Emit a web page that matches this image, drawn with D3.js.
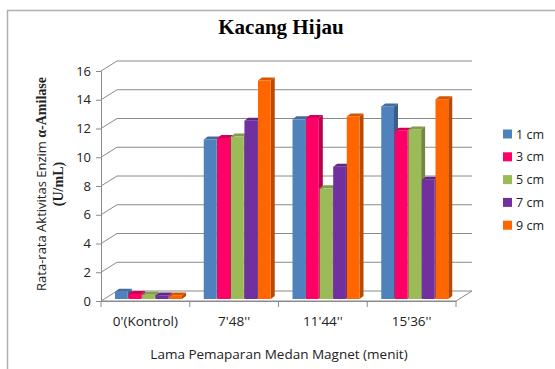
<!DOCTYPE html>
<html><head><meta charset="utf-8">
<script src="https://cdn.jsdelivr.net/npm/d3@7"></script>
<style>body{margin:0;background:#fff}svg{display:block}</style>
</head><body>
<svg id="c" width="555" height="369"></svg>
<script>
const categories = ["0'(Kontrol)", "7'48''", "11'44''", "15'36''"];
const seriesNames = ["1 cm", "3 cm", "5 cm", "7 cm", "9 cm"];
const s1 = [0.5, 11.1, 12.5, 13.4];
const s3 = [0.35, 11.2, 12.6, 11.7];
const s5 = [0.3, 11.3, 7.7, 11.8];
const s7 = [0.25, 12.4, 9.2, 8.3];
const s9 = [0.25, 15.2, 12.7, 13.9];
const yTicks = [0, 2, 4, 6, 8, 10, 12, 14, 16];
const colors = ["#4f81bd", "#ff0066", "#9bbb59", "#7030a0", "#ff6600"];
const series = [s1, s3, s5, s7, s9];

const svg = d3.select("#c");
// outer border
svg.append("rect").attr("x", 7.5).attr("y", 10.5).attr("width", 560).attr("height", 380)
  .attr("fill", "#fff").attr("stroke", "#b0b0b0").attr("stroke-width", 1.5);

const X0 = 101, X1 = 456, DX = 16, DY = -10;
const y = d3.scaleLinear().domain([0, 16]).range([301, 71]);
const x0 = d3.scaleBand().domain(categories).range([X0, X1]);
const x1 = d3.scaleBand().domain(seriesNames).range([11, 78]).paddingInner(0.06);

const g = svg.append("g");
// floor
g.append("path").attr("d", `M${X0},${y(0)}L${X0+DX},${y(0)+DY}L${X1+DX},${y(0)+DY}L${X1},${y(0)}Z`)
  .attr("fill", "#fff").attr("stroke", "#8a8a8a").attr("stroke-width", 1);
// gridlines (side wall slant + back wall)
yTicks.forEach(t => {
  if (t === 0) return;
  g.append("path").attr("d", `M${X0},${y(t)}L${X0+DX},${y(t)+DY}L${X1+DX},${y(t)+DY}`)
    .attr("fill", "none").attr("stroke", "#8a8a8a").attr("stroke-width", 1);
});
// y axis
const yAxis = d3.axisLeft(y).tickValues(yTicks).tickSize(5).tickPadding(5);
const ya = svg.append("g").attr("transform", `translate(${X0},0)`).call(yAxis);
ya.select(".domain").attr("stroke", "#8a8a8a");
ya.selectAll(".tick line").attr("stroke", "#8a8a8a");
ya.selectAll("text").attr("font-family", "'Open Sans', sans-serif").attr("font-size", 13).attr("fill", "#222");
// x axis
const xAxis = d3.axisBottom(x0).tickSize(0).tickPadding(15);
const xa = svg.append("g").attr("transform", `translate(0,${y(0)})`).call(xAxis);
xa.select(".domain").attr("stroke", "#8a8a8a");
xa.selectAll("text").attr("font-family", "'Open Sans', sans-serif").attr("font-size", 13.5).attr("fill", "#222");
const bounds = categories.map(c => x0(c)).concat([X1]);
xa.selectAll(".sep").data(bounds).join("line").attr("class", "sep")
  .attr("x1", d => d).attr("x2", d => d).attr("y1", 0).attr("y2", 6).attr("stroke", "#8a8a8a");

// bars
const BO = {dx: 3, dy: -2}, BD = {dx: 4, dy: -3};
function shade(c, k) { return d3.color(c).darker(k).formatHex(); }
const bars = [];
categories.forEach((c, ci) => {
  series.forEach((s, si) => {
    bars.push({c, ci, si, v: s[ci]});
  });
});
const bg = svg.append("g");
bars.forEach(b => {
  const xl = x0(b.c) + x1(seriesNames[b.si]) + BO.dx;
  const w = x1.bandwidth();
  const yb = y(0) + BO.dy, yt = y(b.v) + BO.dy;
  const col = colors[b.si];
  bg.append("path").attr("d", `M${xl+w},${yb}L${xl+w+BD.dx},${yb+BD.dy}L${xl+w+BD.dx},${yt+BD.dy}L${xl+w},${yt}Z`)
    .attr("fill", shade(col, 0.9));
  bg.append("path").attr("d", `M${xl},${yt}L${xl+BD.dx},${yt+BD.dy}L${xl+w+BD.dx},${yt+BD.dy}L${xl+w},${yt}Z`)
    .attr("fill", shade(col, 0.5));
  bg.append("rect").attr("x", xl).attr("y", yt).attr("width", w).attr("height", yb - yt)
    .attr("fill", col);
});

// title
svg.append("text").attr("x", 281).attr("y", 34).attr("text-anchor", "middle")
  .attr("font-family", "'Liberation Serif', serif").attr("font-weight", "bold").attr("font-size", 21)
  .text("Kacang Hijau");

// y title
const yt = svg.append("text").attr("transform", "translate(46,184) rotate(-90)").attr("text-anchor", "middle").attr("fill", "#222");
yt.append("tspan").attr("font-family", "'Open Sans', sans-serif").attr("font-size", 13).text("Rata-rata Aktivitas Enzim ");
yt.append("tspan").attr("font-family", "'Liberation Serif', serif").attr("font-weight", "bold").attr("font-size", 14).text("α-Amilase");
svg.append("text").attr("transform", "translate(63,184) rotate(-90)").attr("text-anchor", "middle")
  .attr("font-family", "'Liberation Serif', serif").attr("font-weight", "bold").attr("font-size", 14).attr("fill", "#222")
  .text("(U/mL)");

// x title
svg.append("text").attr("x", 279).attr("y", 359).attr("text-anchor", "middle")
  .attr("font-family", "'Open Sans', sans-serif").attr("font-size", 13.5).attr("fill", "#222")
  .text("Lama Pemaparan Medan Magnet (menit)");

// legend
const lg = svg.append("g").selectAll("g").data(seriesNames).join("g")
  .attr("transform", (d, i) => `translate(503,${134 + i * 22.8})`);
lg.append("rect").attr("x", 0).attr("y", -4.5).attr("width", 9).attr("height", 9).attr("fill", (d, i) => colors[i]);
lg.append("text").attr("x", 13).attr("y", 4.5).attr("font-family", "'Open Sans', sans-serif").attr("font-size", 12.5).attr("fill", "#222").text(d => d);
</script>
</body></html>
